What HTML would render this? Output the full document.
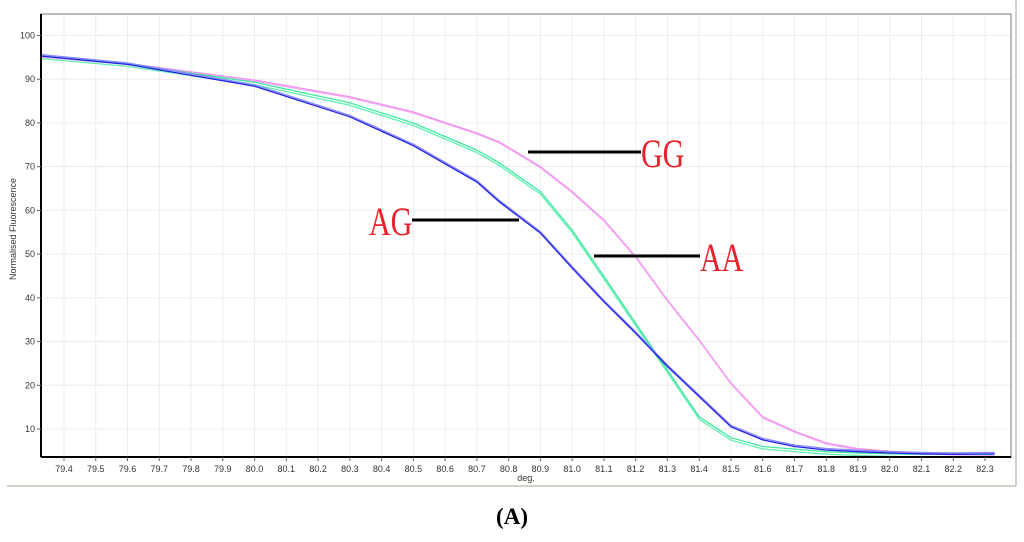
<!DOCTYPE html>
<html><head><meta charset="utf-8"><style>
body{margin:0;background:#fff;width:1024px;height:537px;overflow:hidden;font-family:"Liberation Sans",sans-serif}
</style></head><body>
<svg id="chart" width="1024" height="537" xmlns="http://www.w3.org/2000/svg">
<line x1="7" y1="486" x2="1016" y2="486" stroke="#d4d0c8" stroke-width="2"/>
<line x1="1016" y1="0" x2="1016" y2="486" stroke="#d4d0c8" stroke-width="2"/>
<g id="grid"></g>
<g id="series"></g>
<rect x="41" y="14" width="970" height="443" fill="none" stroke="#777" stroke-width="1"/>
<line x1="41" y1="457" x2="1011" y2="457" stroke="#000" stroke-width="2"/>
<line x1="41" y1="14" x2="41" y2="457" stroke="#000" stroke-width="2"/>
<g id="ticks" font-size="9" fill="#333"></g>
<text transform="translate(16,229) rotate(-90)" text-anchor="middle" font-size="9" fill="#333">Normalised Fluorescence</text>
<text x="526" y="481" text-anchor="middle" font-size="9" fill="#333">deg.</text>
<g font-family="'Liberation Serif',serif" fill="#e8212a" font-size="40">
<line x1="528" y1="152" x2="641" y2="152" stroke="#000" stroke-width="3"/>
<text transform="translate(641,167) scale(0.75,1)">GG</text>
<line x1="412" y1="220" x2="519" y2="220" stroke="#000" stroke-width="3"/>
<text transform="translate(369,235) scale(0.75,1)">AG</text>
<line x1="594" y1="256" x2="700" y2="256" stroke="#000" stroke-width="3"/>
<text transform="translate(700,271) scale(0.75,1)">AA</text>
</g>
<text x="512" y="524" text-anchor="middle" font-family="'Liberation Serif',serif" font-size="23" font-weight="bold">(<tspan>A</tspan>)</text>
</svg>
<script>
const temps=[79.33,79.6,80.0,80.3,80.5,80.7,80.77,80.9,81.0,81.1,81.2,81.3,81.4,81.5,81.6,81.7,81.8,81.9,82.0,82.1,82.2,82.33];
const ggValues=[95.3,93.6,89.8,86.0,82.5,77.7,75.7,70.0,64.3,57.8,49.4,39.5,30.4,20.5,12.8,9.5,6.8,5.5,4.9,4.5,4.3,4.2];
const aaValues=[95.3,93.5,89.3,84.6,80.0,73.8,70.9,64.3,55.5,44.9,34.2,23.5,12.8,8.0,6.0,5.4,4.8,4.5,4.3,4.2,4.2,4.2];
const agValues=[95.3,93.4,88.4,81.4,74.8,66.5,62.0,54.8,46.8,39.1,31.9,24.3,17.4,10.5,7.5,6.0,5.2,4.8,4.5,4.3,4.2,4.3];
const xTicks=[79.4,79.5,79.6,79.7,79.8,79.9,80.0,80.1,80.2,80.3,80.4,80.5,80.6,80.7,80.8,80.9,81.0,81.1,81.2,81.3,81.4,81.5,81.6,81.7,81.8,81.9,82.0,82.1,82.2,82.3];
const yTicks=[10,20,30,40,50,60,70,80,90,100];
const NS="http://www.w3.org/2000/svg";
const xs=v=>64+(v-79.4)*317.6;
const ys=v=>429-(v-10)*4.372;
const grid=document.getElementById('grid'),ticks=document.getElementById('ticks'),series=document.getElementById('series');
function mk(tag,attrs,parent){const e=document.createElementNS(NS,tag);for(const k in attrs)e.setAttribute(k,attrs[k]);parent.appendChild(e);return e;}
xTicks.forEach(t=>{
 const g=mk('line',{x1:xs(t),x2:xs(t),y1:14,y2:457,stroke:'#ececec'},grid);
 
 
 const tk=mk('line',{x1:xs(t),x2:xs(t),y1:457,y2:461,stroke:'#666'},ticks);
 
 
 const l=mk('text',{x:xs(t),y:472,'text-anchor':'middle'},ticks);l.textContent=t.toFixed(1);
 
 
});
yTicks.forEach(t=>{
 const g=mk('line',{x1:41,x2:1011,y1:ys(t),y2:ys(t),stroke:'#ececec'},grid);
 
 
 const tk=mk('line',{x1:37,x2:41,y1:ys(t),y2:ys(t),stroke:'#666'},ticks);
 
 
 const l=mk('text',{x:35,y:ys(t)+3,'text-anchor':'end'},ticks);l.textContent=t;
 
 
});
function draw(vals,color,name,off){
 const d=temps.map((t,i)=>(i?'L':'M')+xs(t).toFixed(1)+','+(ys(vals[i])+off).toFixed(1)).join(' ');
 const p=mk('path',{d:d,fill:'none',stroke:color,'stroke-width':1.3},series);
 
 
}
draw(ggValues,'#f08cf0','gg-curve',0);
draw(ggValues,'#f4a8f4','gg-curve-replicate',1);
draw(aaValues,'#40e8a0','aa-curve',0);
draw(aaValues,'#60f0b0','aa-curve-replicate',2.5);
draw(agValues,'#8888ff','ag-curve-replicate',-1.5);
draw(agValues,'#2020e8','ag-curve',0);
</script>
</body></html>
